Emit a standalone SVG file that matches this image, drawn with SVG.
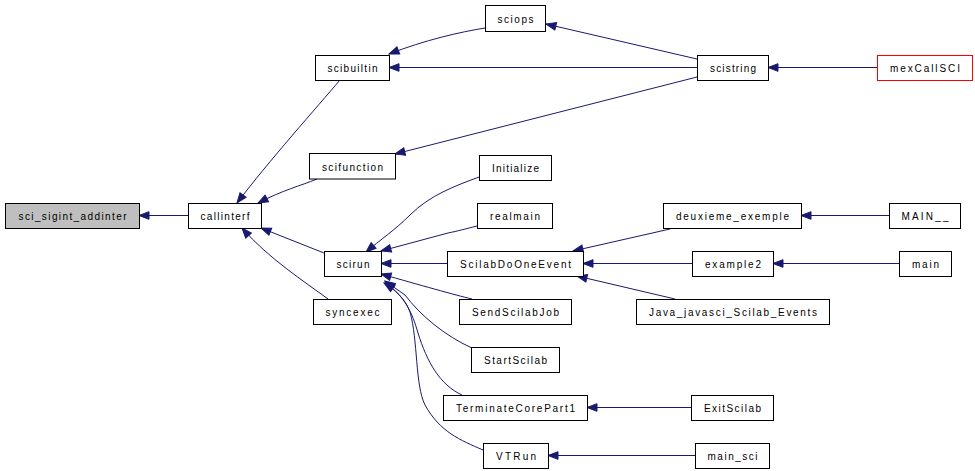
<svg xmlns="http://www.w3.org/2000/svg" width="975" height="471" viewBox="0 0 975 471">
<style>
.n rect{fill:#ffffff;stroke:#000000;stroke-width:1}
.n text{font-family:"Liberation Sans",Arial,sans-serif;font-size:10px;fill:#000000;text-anchor:middle}
.e path{fill:none;stroke:#191970;stroke-width:1;marker-end:url(#ah)}
</style>
<defs>
<marker id="ah" markerUnits="userSpaceOnUse" markerWidth="12" markerHeight="10" refX="11" refY="5" orient="auto">
<path d="M1,1.2 L11,5 L1,8.8 Z" fill="#191970" stroke="#191970" stroke-width="1"/>
</marker>
</defs>
<rect width="975" height="471" fill="#ffffff"/>
<g class="e" id="edges">
<path d="M188,215.5 L139,215.5"/>
<path d="M340,80 C318,106 268,162 237,203"/>
<path d="M317,179 C300,186 283,190 258,203"/>
<path d="M324,253 L261,228"/>
<path d="M328,299 C305,282 268,258 242,228"/>
<path d="M485,28 C460,32 425,40 389,54"/>
<path d="M697,59 L546,24"/>
<path d="M697,67.5 L389,67.5"/>
<path d="M697,77 L395,154"/>
<path d="M877,67.5 L768,67.5"/>
<path d="M479,177 C455,186 430,195 410,215 C395,230 380,240 366,252"/>
<path d="M477,226 C465,229 458,231 448,233 L381,251"/>
<path d="M447,263.5 L381,263.5"/>
<path d="M472,299 C455,295 420,285 381,274"/>
<path d="M472,348 C445,336 420,315 405,295 L385,281"/>
<path d="M462,395 C440,385 427,362 418,333 C412,312 405,297 385,282"/>
<path d="M483,450 C460,440 440,432 425,405 C415,385 418,340 410,312 C405,298 395,290 384,283"/>
<path d="M670,229 L573,251"/>
<path d="M692,263.5 L583,263.5"/>
<path d="M675,299 L577,276"/>
<path d="M889,215.5 L801,215.5"/>
<path d="M899,263.5 L773,263.5"/>
<path d="M691,407.5 L587,407.5"/>
<path d="M695,455.5 L548,455.5"/>
</g>
<g class="n" id="sci_sigint_addinter"><rect x="5.5" y="203.5" width="134" height="25" style="fill:#bfbfbf"/><text x="72.5" y="220" textLength="108" lengthAdjust="spacing">sci_sigint_addinter</text></g>
<g class="n" id="callinterf"><rect x="188.5" y="203.5" width="73" height="25"/><text x="225" y="220" textLength="49" lengthAdjust="spacing">callinterf</text></g>
<g class="n" id="scibuiltin"><rect x="315.5" y="55.5" width="74" height="25"/><text x="352.5" y="72" textLength="50" lengthAdjust="spacing">scibuiltin</text></g>
<g class="n" id="scifunction"><rect x="309.5" y="153.5" width="86" height="25.5"/><text x="352.5" y="170.5" textLength="61" lengthAdjust="spacing">scifunction</text></g>
<g class="n" id="sciops"><rect x="485.5" y="5.5" width="60" height="26"/><text x="515.5" y="22.5" textLength="36" lengthAdjust="spacing">sciops</text></g>
<g class="n" id="scistring"><rect x="697.5" y="55.5" width="71" height="25"/><text x="733" y="72" textLength="46" lengthAdjust="spacing">scistring</text></g>
<g class="n" id="mexCallSCI"><rect x="877.5" y="55.5" width="95" height="25" style="stroke:#ff0000"/><text x="925" y="72" textLength="70" lengthAdjust="spacing">mexCallSCI</text></g>
<g class="n" id="Initialize"><rect x="479.5" y="155.5" width="72" height="25"/><text x="515.5" y="172" textLength="47" lengthAdjust="spacing">Initialize</text></g>
<g class="n" id="scirun"><rect x="324.5" y="251.5" width="57" height="25"/><text x="353" y="268" textLength="33" lengthAdjust="spacing">scirun</text></g>
<g class="n" id="syncexec"><rect x="313.5" y="299.5" width="78" height="25"/><text x="352.5" y="316" textLength="54" lengthAdjust="spacing">syncexec</text></g>
<g class="n" id="realmain"><rect x="477.5" y="203.5" width="75" height="25"/><text x="515" y="220" textLength="50" lengthAdjust="spacing">realmain</text></g>
<g class="n" id="ScilabDoOneEvent"><rect x="447.5" y="251.5" width="136" height="25"/><text x="515.5" y="268" textLength="111" lengthAdjust="spacing">ScilabDoOneEvent</text></g>
<g class="n" id="SendScilabJob"><rect x="459.5" y="299.5" width="112" height="25"/><text x="515.5" y="316" textLength="87" lengthAdjust="spacing">SendScilabJob</text></g>
<g class="n" id="StartScilab"><rect x="471.5" y="347.5" width="88" height="25"/><text x="515.5" y="364" textLength="63" lengthAdjust="spacing">StartScilab</text></g>
<g class="n" id="TerminateCorePart1"><rect x="443.5" y="395.5" width="144" height="25"/><text x="515.5" y="412" textLength="119" lengthAdjust="spacing">TerminateCorePart1</text></g>
<g class="n" id="VTRun"><rect x="483.5" y="443.5" width="65" height="25"/><text x="516" y="460" textLength="40" lengthAdjust="spacing">VTRun</text></g>
<g class="n" id="deuxieme_exemple"><rect x="663.5" y="203.5" width="138" height="25"/><text x="732.5" y="220" textLength="113" lengthAdjust="spacing">deuxieme_exemple</text></g>
<g class="n" id="MAIN__"><rect x="889.5" y="203.5" width="71" height="25"/><text x="925" y="220" textLength="47" lengthAdjust="spacing">MAIN__</text></g>
<g class="n" id="example2"><rect x="692.5" y="251.5" width="81" height="25"/><text x="733" y="268" textLength="56" lengthAdjust="spacing">example2</text></g>
<g class="n" id="main"><rect x="899.5" y="251.5" width="52" height="25"/><text x="925.5" y="268" textLength="27" lengthAdjust="spacing">main</text></g>
<g class="n" id="Java_javasci_Scilab_Events"><rect x="636.5" y="299.5" width="193" height="25"/><text x="733" y="316" textLength="168" lengthAdjust="spacing">Java_javasci_Scilab_Events</text></g>
<g class="n" id="ExitScilab"><rect x="691.5" y="395.5" width="82" height="25"/><text x="732.5" y="412" textLength="57" lengthAdjust="spacing">ExitScilab</text></g>
<g class="n" id="main_sci"><rect x="695.5" y="443.5" width="74" height="25"/><text x="732.5" y="460" textLength="50" lengthAdjust="spacing">main_sci</text></g>
</svg>
